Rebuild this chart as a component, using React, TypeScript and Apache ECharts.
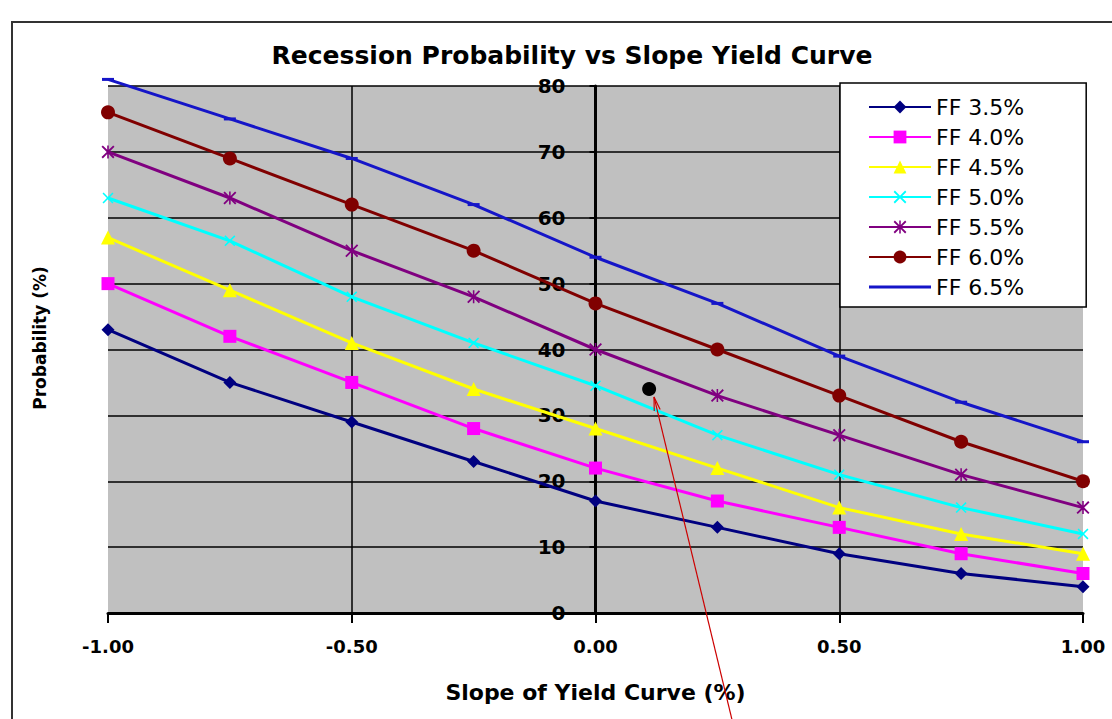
import React, { useEffect, useRef } from "react";
import * as echarts from "echarts";

const X_VALUES = [-1, -0.75, -0.5, -0.25, 0, 0.25, 0.5, 0.75, 1];
const SERIES_NAMES = ["FF 3.5%", "FF 4.0%", "FF 4.5%", "FF 5.0%", "FF 5.5%", "FF 6.0%", "FF 6.5%"];
const FF35 = [43, 35, 29, 23, 17, 13, 9, 6, 4];
const FF40 = [50, 42, 35, 28, 22, 17, 13, 9, 6];
const FF45 = [57, 49, 41, 34, 28, 22, 16, 12, 9];
const FF50 = [63, 56.5, 48, 41, 34.5, 27, 21, 16, 12];
const FF55 = [70, 63, 55, 48, 40, 33, 27, 21, 16];
const FF60 = [76, 69, 62, 55, 47, 40, 33, 26, 20];
const FF65 = [81, 75, 69, 62, 54, 47, 39, 32, 26];
const SERIES_VALUES = [FF35, FF40, FF45, FF50, FF55, FF60, FF65];
const HIGHLIGHT_POINT = [0.11, 34];
const ARROW_FROM = [0.12, 32.8];
const ARROW_TO = [0.28, -16.2];

const TITLE = "Recession Probability vs Slope Yield Curve";
const X_TITLE = "Slope of Yield Curve (%)";
const Y_TITLE = "Probability (%)";

const X_SYM = "path://M1,0 L5,4 L9,0 L10,1 L6,5 L10,9 L9,10 L5,6 L1,10 L0,9 L4,5 L0,1 Z";
const AST_SYM =
  "path://M1,0 L5,4 L9,0 L10,1 L6,5 L10,9 L9,10 L5,6 L1,10 L0,9 L4,5 L0,1 Z M4.4,0 L5.6,0 L5.6,10 L4.4,10 Z";
const LINE_ICON =
  "path://M0,0 L0.01,0 L0.01,0.01 Z M0,6.5 L62,6.5 L62,9.5 L0,9.5 Z M0,16 L0.01,16 L0.01,15.99 Z";

const STYLES = [
  { color: "#000080", symbol: "diamond", size: 13 },
  { color: "#ff00ff", symbol: "rect", size: 13 },
  { color: "#ffff00", symbol: "triangle", size: 14 },
  { color: "#00ffff", symbol: X_SYM, size: 11 },
  { color: "#800080", symbol: AST_SYM, size: 13 },
  { color: "#800000", symbol: "circle", size: 14 },
  { color: "#1515c8", symbol: "rect", size: [12, 3] },
];

const FONT = "DejaVu Sans";
const GRID_LEFT = 108;
const GRID_RIGHT = 29;
const CHART_W = 1112;

export default function App() {
  const ref = useRef<HTMLDivElement>(null);
  useEffect(() => {
    if (!ref.current) return;
    const chart = echarts.init(ref.current, undefined, { renderer: "svg" });
    const series: any[] = SERIES_NAMES.map((name, i) => ({
      name,
      type: "line",
      data: X_VALUES.map((x, j) => [x, SERIES_VALUES[i][j]]),
      symbol: STYLES[i].symbol,
      symbolSize: STYLES[i].size,
      showAllSymbol: true,
      clip: false,
      lineStyle: { color: STYLES[i].color, width: 3 },
      itemStyle: { color: STYLES[i].color },
      z: 3 + i,
    }));
    series.push({
      name: "point",
      type: "scatter",
      data: [HIGHLIGHT_POINT],
      symbol: "circle",
      symbolSize: 14,
      itemStyle: { color: "#000", opacity: 1 },
      z: 20,
    });
    const plotW = CHART_W - GRID_LEFT - GRID_RIGHT;
    chart.setOption({
      animation: false,
      backgroundColor: "#fff",
      title: {
        text: TITLE,
        left: 567,
        textAlign: "center",
        top: 38,
        textStyle: { fontFamily: FONT, fontSize: 25, fontWeight: "bold", color: "#000" },
      },
      grid: {
        left: GRID_LEFT,
        right: GRID_RIGHT,
        top: 86,
        bottom: 106,
        show: true,
        backgroundColor: "#c0c0c0",
        borderWidth: 0,
      },
      legend: {
        data: SERIES_NAMES.map((n, i) => (i === 6 ? { name: n, icon: LINE_ICON } : { name: n })),
        orient: "vertical",
        left: 840,
        top: 83,
        padding: [13, 62, 9, 28],
        backgroundColor: "#fff",
        borderColor: "#000",
        borderWidth: 1.5,
        itemWidth: 62,
        itemHeight: 16,
        itemGap: 8,
        textStyle: { fontFamily: FONT, fontSize: 22, color: "#000" },
      },
      xAxis: {
        type: "value",
        min: -1,
        max: 1,
        interval: 0.5,
        name: X_TITLE,
        nameLocation: "middle",
        nameGap: 68,
        nameTextStyle: { fontFamily: FONT, fontSize: 22, fontWeight: "bold", color: "#000" },
        axisLine: { show: true, lineStyle: { color: "#000", width: 3 } },
        axisTick: { show: true, length: 10, lineStyle: { color: "#000", width: 2 } },
        axisLabel: {
          formatter: (v: number) => v.toFixed(2),
          fontFamily: FONT,
          fontSize: 18,
          fontWeight: "bold",
          color: "#000",
          margin: 24,
        },
        splitLine: {
          show: true,
          showMinLine: false,
          showMaxLine: false,
          lineStyle: { color: "#000", width: 1.5 },
        },
      },
      yAxis: {
        type: "value",
        min: 0,
        max: 80,
        interval: 10,
        offset: -plotW / 2,
        axisLine: { show: true, onZero: false, lineStyle: { color: "#000", width: 3 } },
        axisTick: { show: true, length: 6, lineStyle: { color: "#000", width: 2 } },
        axisLabel: { fontFamily: FONT, fontSize: 20, fontWeight: "bold", color: "#000", margin: 30 },
        splitLine: { show: true, lineStyle: { color: "#000", width: 1.5 } },
      },
      series,
      graphic: [
        {
          id: "frame",
          type: "rect",
          shape: { x: 12, y: 22, width: 1120, height: 720 },
          style: { fill: "none", stroke: "#333", lineWidth: 2 },
          silent: true,
          z: 0,
        },
        {
          id: "ytitle",
          type: "text",
          x: 40,
          y: 338,
          rotation: Math.PI / 2,
          style: {
            text: Y_TITLE,
            fontFamily: FONT,
            fontSize: 17,
            fontWeight: "bold",
            fill: "#000",
            align: "center",
            verticalAlign: "middle",
          },
          z: 10,
        },
      ],
    });
    const p1 = chart.convertToPixel({ gridIndex: 0 }, ARROW_FROM) as number[];
    const p2 = chart.convertToPixel({ gridIndex: 0 }, ARROW_TO) as number[];
    const dx = p1[0] - p2[0];
    const dy = p1[1] - p2[1];
    const len = Math.sqrt(dx * dx + dy * dy);
    const ux = dx / len;
    const uy = dy / len;
    const ah = 14;
    const ang = 0.22;
    const rot = (a: number) => [
      p1[0] - ah * (ux * Math.cos(a) - uy * Math.sin(a)),
      p1[1] - ah * (ux * Math.sin(a) + uy * Math.cos(a)),
    ];
    chart.setOption({
      graphic: [
        {
          id: "arrowLine",
          type: "line",
          shape: { x1: p1[0], y1: p1[1], x2: p2[0], y2: p2[1] },
          style: { stroke: "#cc0000", lineWidth: 1.2 },
          z: 30,
          silent: true,
        },
        {
          id: "arrowHead",
          type: "polyline",
          shape: { points: [rot(ang), p1, rot(-ang)] },
          style: { stroke: "#cc0000", lineWidth: 1.2, fill: "none" },
          z: 30,
          silent: true,
        },
      ],
    });
    return () => chart.dispose();
  }, []);
  return <div ref={ref} style={{ position: "fixed", left: 0, top: 0, width: 1112, height: 719 }} />;
}
